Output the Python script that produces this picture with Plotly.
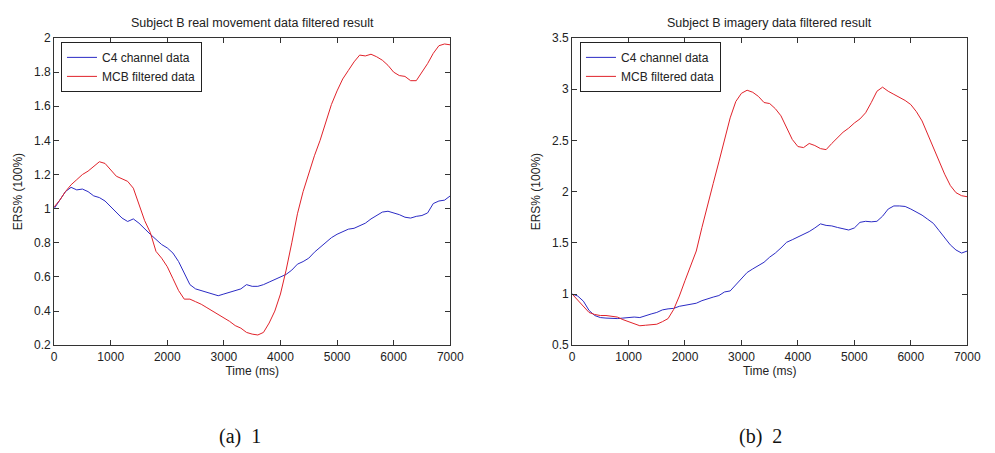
import plotly.graph_objects as go

time_ms = list(range(0, 7001, 100))

# Left panel: Subject B real movement
real_c4 = [1.0, 1.05, 1.10, 1.125, 1.11, 1.115, 1.10, 1.075, 1.065, 1.045,
           1.01, 0.975, 0.945, 0.925, 0.94, 0.915, 0.88, 0.85, 0.82, 0.79,
           0.77, 0.74, 0.69, 0.62, 0.555, 0.53, 0.52, 0.51, 0.50, 0.49,
           0.50, 0.51, 0.52, 0.53, 0.555, 0.545, 0.545, 0.555, 0.57, 0.585,
           0.60, 0.615, 0.64, 0.675, 0.69, 0.71, 0.745, 0.775, 0.80, 0.83,
           0.85, 0.865, 0.88, 0.885, 0.90, 0.915, 0.94, 0.96, 0.98, 0.985,
           0.975, 0.965, 0.95, 0.945, 0.955, 0.96, 0.975, 1.03, 1.045, 1.05,
           1.075]
real_mcb = [1.01, 1.05, 1.10, 1.14, 1.17, 1.20, 1.22, 1.25, 1.275, 1.265,
            1.23, 1.19, 1.175, 1.16, 1.12, 1.02, 0.93, 0.86, 0.75, 0.71,
            0.66, 0.59, 0.52, 0.47, 0.47, 0.455, 0.44, 0.42, 0.40, 0.375,
            0.36, 0.34, 0.315, 0.30, 0.275, 0.265, 0.26, 0.275, 0.33, 0.40,
            0.50, 0.64, 0.80, 0.97, 1.10, 1.21, 1.31, 1.40, 1.50, 1.61,
            1.69, 1.76, 1.81, 1.86, 1.90, 1.895, 1.905, 1.89, 1.87, 1.84,
            1.80, 1.78, 1.775, 1.75, 1.75, 1.80, 1.85, 1.91, 1.955, 1.965,
            1.96]

# Right panel: Subject B imagery
imag_c4 = [1.0, 0.98, 0.93, 0.84, 0.79, 0.77, 0.765, 0.76, 0.76, 0.765,
           0.77, 0.775, 0.77, 0.79, 0.805, 0.82, 0.845, 0.855, 0.86, 0.88,
           0.89, 0.90, 0.91, 0.935, 0.955, 0.97, 0.985, 1.02, 1.03, 1.09,
           1.16, 1.21, 1.245, 1.275, 1.31, 1.36, 1.40, 1.45, 1.505, 1.53,
           1.555, 1.58, 1.61, 1.645, 1.685, 1.67, 1.665, 1.65, 1.64, 1.625,
           1.645, 1.70, 1.71, 1.705, 1.71, 1.76, 1.83, 1.86, 1.86, 1.855,
           1.83, 1.80, 1.77, 1.73, 1.69, 1.62, 1.55, 1.48, 1.43, 1.40,
           1.42]
imag_mcb = [1.0, 0.94, 0.88, 0.82, 0.80, 0.79, 0.79, 0.785, 0.775, 0.75,
            0.73, 0.71, 0.69, 0.695, 0.70, 0.705, 0.73, 0.76, 0.85, 0.98,
            1.13, 1.27, 1.42, 1.65, 1.88, 2.08, 2.29, 2.52, 2.72, 2.88,
            2.96, 2.99, 2.97, 2.93, 2.87, 2.86, 2.81, 2.74, 2.62, 2.51,
            2.44, 2.43, 2.47, 2.45, 2.42, 2.41, 2.47, 2.53, 2.58, 2.62,
            2.67, 2.71, 2.77, 2.87, 2.98, 3.02, 2.98, 2.95, 2.92, 2.89,
            2.85, 2.78, 2.69, 2.56, 2.42, 2.30, 2.17, 2.06, 1.99, 1.96,
            1.95]

series_names = ["C4 channel data", "MCB filtered data"]
titles = ["Subject B real movement data filtered result",
          "Subject B imagery data filtered result"]
captions = ["(a)  1", "(b)  2"]
x_ticks = [0, 1000, 2000, 3000, 4000, 5000, 6000, 7000]
left_yticks = [0.2, 0.4, 0.6, 0.8, 1, 1.2, 1.4, 1.6, 1.8, 2]
right_yticks = [0.5, 1, 1.5, 2, 2.5, 3, 3.5]

BLUE = "#2b2bc4"
RED = "#e0222a"
FONT = "Liberation Sans"

fig = go.Figure()
fig.add_trace(go.Scatter(x=time_ms, y=real_c4, name=series_names[0], mode="lines",
                         line=dict(color=BLUE, width=1), xaxis="x", yaxis="y", legend="legend"))
fig.add_trace(go.Scatter(x=time_ms, y=real_mcb, name=series_names[1], mode="lines",
                         line=dict(color=RED, width=1), xaxis="x", yaxis="y", legend="legend"))
fig.add_trace(go.Scatter(x=time_ms, y=imag_c4, name=series_names[0], mode="lines",
                         line=dict(color=BLUE, width=1), xaxis="x2", yaxis="y2", legend="legend2"))
fig.add_trace(go.Scatter(x=time_ms, y=imag_mcb, name=series_names[1], mode="lines",
                         line=dict(color=RED, width=1), xaxis="x2", yaxis="y2", legend="legend2"))

W, H = 995, 453
yd = [1 - 349 / H, 1 - 32 / H]
xd1 = [52 / W, 455 / W]
xd2 = [579 / W, 981 / W]

axis_common = dict(showline=True, linecolor="#333", linewidth=1, mirror="ticks",
                   ticks="inside", ticklen=5, tickcolor="#333", showgrid=False,
                   zeroline=False, tickfont=dict(family=FONT, size=12, color="#222"))

fig.update_layout(
    width=W, height=H,
    margin=dict(l=0, r=0, t=0, b=0),
    paper_bgcolor="white", plot_bgcolor="white",
    font=dict(family=FONT, color="#222"),
    xaxis=dict(domain=xd1, anchor="y", range=[0, 7000], tickvals=x_ticks,
               title=dict(text="Time (ms)", font=dict(size=12), standoff=2), **axis_common),
    yaxis=dict(domain=yd, anchor="x", range=[0.2, 2], tickvals=left_yticks,
               ticktext=[f"{v:g}" for v in left_yticks],
               title=dict(text="ERS% (100%)", font=dict(size=12), standoff=8), **axis_common),
    xaxis2=dict(domain=xd2, anchor="y2", range=[0, 7000], tickvals=x_ticks,
                title=dict(text="Time (ms)", font=dict(size=12), standoff=2), **axis_common),
    yaxis2=dict(domain=yd, anchor="x2", range=[0.5, 3.5], tickvals=right_yticks,
                ticktext=[f"{v:g}" for v in right_yticks],
                title=dict(text="ERS% (100%)", font=dict(size=12), standoff=8), **axis_common),
    legend=dict(x=59 / W, y=1 - 36 / H, xanchor="left", yanchor="top",
                bgcolor="white", bordercolor="#222", borderwidth=1,
                font=dict(family=FONT, size=12, color="#222"),
                tracegroupgap=0, itemwidth=30),
    legend2=dict(x=587 / W, y=1 - 36 / H, xanchor="left", yanchor="top",
                 bgcolor="white", bordercolor="#222", borderwidth=1,
                 font=dict(family=FONT, size=12, color="#222"),
                 tracegroupgap=0, itemwidth=30),
    showlegend=True,
)

for xc, t in zip([(xd1[0] + xd1[1]) / 2, (xd2[0] + xd2[1]) / 2], titles):
    fig.add_annotation(text=t, x=xc, y=1 - 17 / H, xref="paper", yref="paper",
                       xanchor="center", yanchor="middle",
                       showarrow=False, font=dict(family=FONT, size=12.5, color="#222"))

for xc, c in zip([241 / W, 771 / W], captions):
    fig.add_annotation(text=c, x=xc, y=1 - 443 / H, xref="paper", yref="paper",
                       xanchor="center", yanchor="middle",
                       showarrow=False, font=dict(family="Liberation Serif", size=20, color="#111"))

fig.write_html("out.html")
